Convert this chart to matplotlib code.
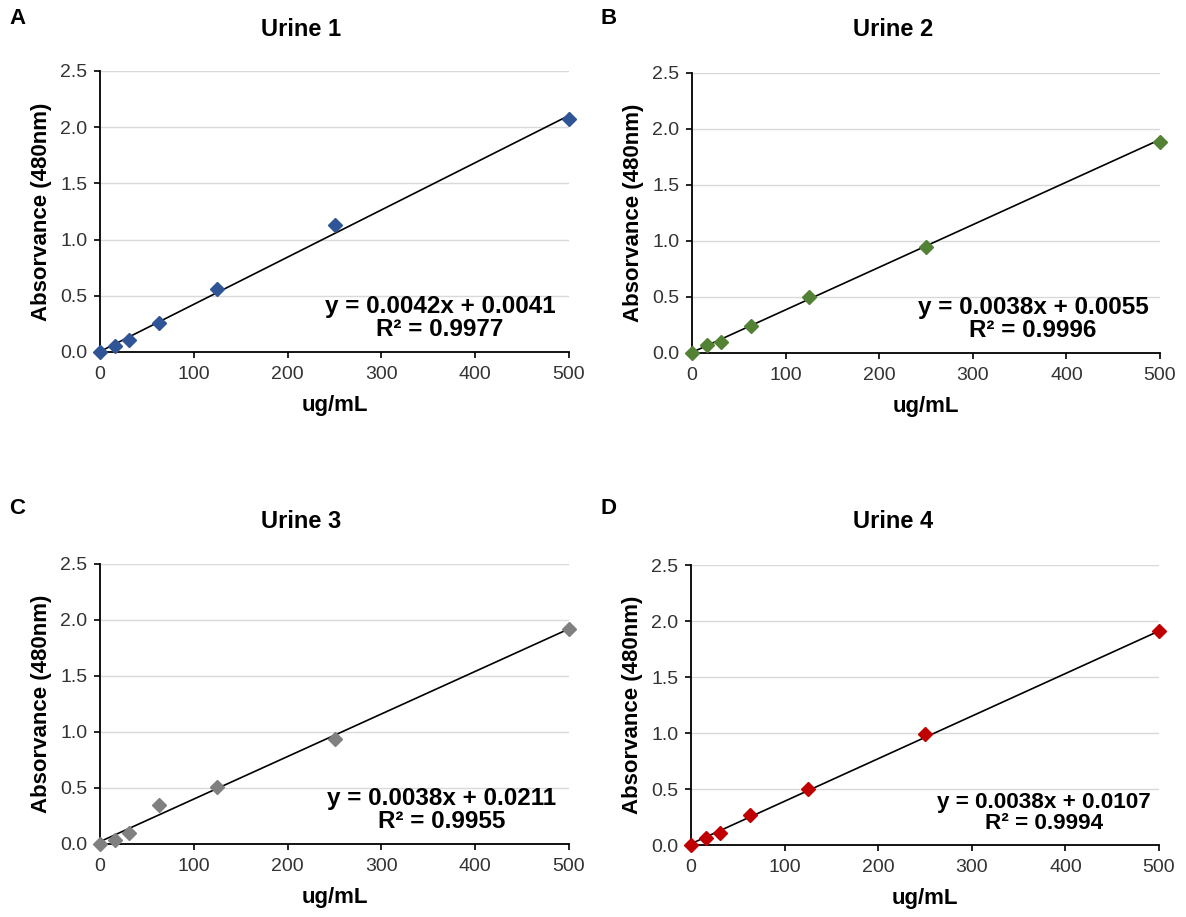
import matplotlib
matplotlib.use("Agg")
import matplotlib.pyplot as plt
import numpy as np

plt.rcParams['font.family'] = ['Liberation Sans', 'DejaVu Sans']

# Standard concentrations (ug/mL)
conc = [0, 15.625, 31.25, 62.5, 125, 250, 500]

# Absorbance readings at 480 nm for each urine sample
urine1 = [0.0, 0.05, 0.11, 0.26, 0.56, 1.13, 2.07]
urine2 = [0.0, 0.07, 0.095, 0.245, 0.50, 0.95, 1.88]
urine3 = [0.0, 0.04, 0.10, 0.35, 0.51, 0.935, 1.92]
urine4 = [0.0, 0.065, 0.11, 0.265, 0.50, 0.99, 1.91]

# Linear fit parameters
slopes = [0.0042, 0.0038, 0.0038, 0.0038]
intercepts = [0.0041, 0.0055, 0.0211, 0.0107]
r_squared = [0.9977, 0.9996, 0.9955, 0.9994]

titles = ["Urine 1", "Urine 2", "Urine 3", "Urine 4"]
panel_letters = ["A", "B", "C", "D"]
colors = ["#2F5597", "#548235", "#808080", "#C00000"]
series = [urine1, urine2, urine3, urine4]

W, H = 1186, 917
fig = plt.figure(figsize=(W / 100, H / 100), dpi=100)

# axes boxes in pixels: left, top, right, bottom
boxes = [(100, 71, 569, 352), (692, 73, 1160, 353),
         (100, 564, 569, 844), (691, 565, 1159, 845)]
title_pos = [(301, 30), (893, 30), (301, 522), (893, 522)]
letter_pos = [(9, 19), (601, 19), (9, 508), (601, 508)]
eq_pos = [(0.725, 0.121), (0.729, 0.121), (0.728, 0.121), (0.755, 0.114)]
eq_size = [17.5, 17.5, 17.5, 16.2]

for i in range(4):
    l, t, r, b = boxes[i]
    ax = fig.add_axes([l / W, 1 - b / H, (r - l) / W, (b - t) / H])
    ax.set_xlim(0, 500)
    ax.set_ylim(0, 2.5)
    ax.set_yticks(np.arange(0, 2.51, 0.5))
    ax.set_xticks(np.arange(0, 501, 100))
    ax.yaxis.set_major_formatter(matplotlib.ticker.FormatStrFormatter('%.1f'))
    ax.grid(axis='y', color='#D9D9D9', linewidth=1.0)
    ax.set_axisbelow(True)
    for s in ['top', 'right']:
        ax.spines[s].set_visible(False)
    for s in ['left', 'bottom']:
        ax.spines[s].set_linewidth(1.3)
        ax.spines[s].set_color('black')
    ax.tick_params(axis='both', direction='out', length=4, width=1.2,
                   labelsize=14, labelcolor='#333333', color='black')
    ax.tick_params(axis='y', pad=5)
    ax.tick_params(axis='x', pad=6)

    xs = np.array([0, 500])
    ax.plot(xs, slopes[i] * xs + intercepts[i], color='black', linewidth=1.2,
            zorder=3, clip_on=False)
    ax.plot(conc, series[i], linestyle='none', marker='D', markersize=7,
            color=colors[i], zorder=4, clip_on=False)

    ax.set_xlabel("ug/mL", fontsize=16, fontweight='bold', labelpad=9)
    ax.set_ylabel("Absorvance (480nm)", fontsize=16, fontweight='bold', labelpad=6)

    eq = f"y = {slopes[i]:.4f}x + {intercepts[i]:.4f}\nR\u00b2 = {r_squared[i]:.4f}"
    ax.text(eq_pos[i][0], eq_pos[i][1], eq, transform=ax.transAxes,
            ha='center', va='center', ma='center', fontsize=eq_size[i],
            fontweight='bold', linespacing=1.0, zorder=5)

    tx, ty = title_pos[i]
    fig.text(tx / W, 1 - ty / H, titles[i], ha='center', va='center',
             fontsize=17, fontweight='bold')
    lx, ly = letter_pos[i]
    fig.text(lx / W, 1 - ly / H, panel_letters[i], ha='left', va='center',
             fontsize=16, fontweight='bold')

fig.savefig("out.png", dpi=100, facecolor='white')
